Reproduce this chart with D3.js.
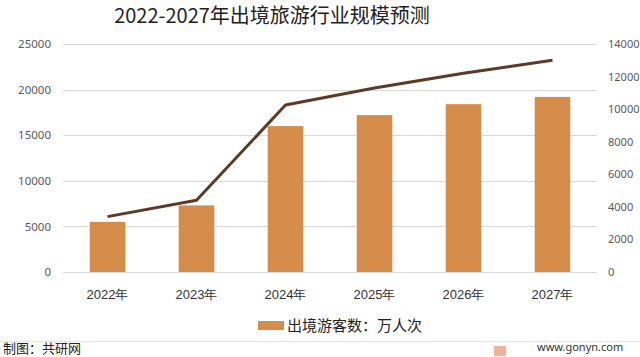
<!DOCTYPE html>
<html><head><meta charset="utf-8">
<script src="https://cdn.jsdelivr.net/npm/d3@7"></script>
<style>body{margin:0;background:#fff;}svg{display:block;font-family:"Noto Sans CJK SC","Noto Sans",sans-serif;}</style>
</head><body>
<svg id="c" width="640" height="357"></svg>
<script>
const categories = ["2022年","2023年","2024年","2025年","2026年","2027年"];
const touristCounts = [5500, 7300, 16000, 17200, 18400, 19200];
const marketScale = [3400, 4400, 10250, 11300, 12200, 13000];
const leftTicks = [0, 5000, 10000, 15000, 20000, 25000];
const rightTicks = [0, 2000, 4000, 6000, 8000, 10000, 12000, 14000];
const titleText = "2022-2027年出境旅游行业规模预测";
const legendText = "出境游客数：万人次";

const svg = d3.select("#c");
const x = d3.scaleBand().domain(categories).range([63, 597]).paddingInner(0.6).paddingOuter(0.3);
const yL = d3.scaleLinear().domain([0, 25000]).range([272, 44]);
const yR = d3.scaleLinear().domain([0, 14000]).range([272, 44]);
const fmt = d3.format("d");

svg.append("text").attr("x", 272).attr("y", 23).attr("text-anchor", "middle")
  .attr("font-size", 20).attr("fill", "#222").text(titleText);

// gridlines
svg.append("g").selectAll("line").data(leftTicks).join("line")
  .attr("x1", 63).attr("x2", 597).attr("y1", d => Math.round(yL(d)) + 0.5).attr("y2", d => Math.round(yL(d)) + 0.5)
  .attr("stroke", "#d9d9d9").attr("stroke-width", 1);

// left axis
const gl = svg.append("g").attr("transform", "translate(57,0)")
  .call(d3.axisLeft(yL).tickValues(leftTicks).tickFormat(fmt).tickSize(0).tickPadding(6));
gl.select(".domain").remove();
gl.selectAll("text").attr("font-size", 11.5).attr("fill", "#595959").attr("font-family", "'Noto Sans', sans-serif");

// right axis
const gr = svg.append("g").attr("transform", "translate(603,0)")
  .call(d3.axisRight(yR).tickValues(rightTicks).tickFormat(fmt).tickSize(0).tickPadding(5));
gr.select(".domain").remove();
gr.selectAll("text").attr("font-size", 11).attr("fill", "#595959").attr("font-family", "'Noto Sans', sans-serif");

// bars
svg.append("g").selectAll("rect").data(touristCounts).join("rect")
  .attr("x", (d, i) => x(categories[i])).attr("width", x.bandwidth())
  .attr("y", d => yL(d)).attr("height", d => yL(0) - yL(d))
  .attr("fill", "#d68c4b");

// line
const line = d3.line().x((d, i) => x(categories[i]) + x.bandwidth() / 2).y(d => yR(d));
svg.append("path").datum(marketScale).attr("d", line)
  .attr("fill", "none").attr("stroke", "#5c3a26").attr("stroke-width", 3).attr("stroke-linejoin", "round");

// x labels
const gx = svg.append("g").attr("transform", "translate(0,272)")
  .call(d3.axisBottom(x).tickSize(0).tickPadding(18));
gx.select(".domain").remove();
gx.selectAll("text").attr("font-size", 13).attr("fill", "#333");

// legend
svg.append("rect").attr("x", 258).attr("y", 321).attr("width", 26).attr("height", 9).attr("fill", "#d68c4b");
svg.append("text").attr("x", 287).attr("y", 331).attr("font-size", 15).attr("fill", "#222").text(legendText);

// footer
svg.append("line").attr("x1", 0).attr("x2", 640).attr("y1", 341.5).attr("y2", 341.5).attr("stroke", "#e6e6e6");
svg.append("text").attr("x", 3).attr("y", 353).attr("font-size", 13).attr("fill", "#222").text("制图：共研网");
svg.append("rect").attr("x", 494).attr("y", 346).attr("width", 12).attr("height", 10).attr("fill", "#f0b49a");
svg.append("text").attr("x", 537).attr("y", 351).attr("font-size", 11).attr("fill", "#333").attr("font-family", "'Noto Sans', sans-serif").text("www.gonyn.com");
</script>
</body></html>
